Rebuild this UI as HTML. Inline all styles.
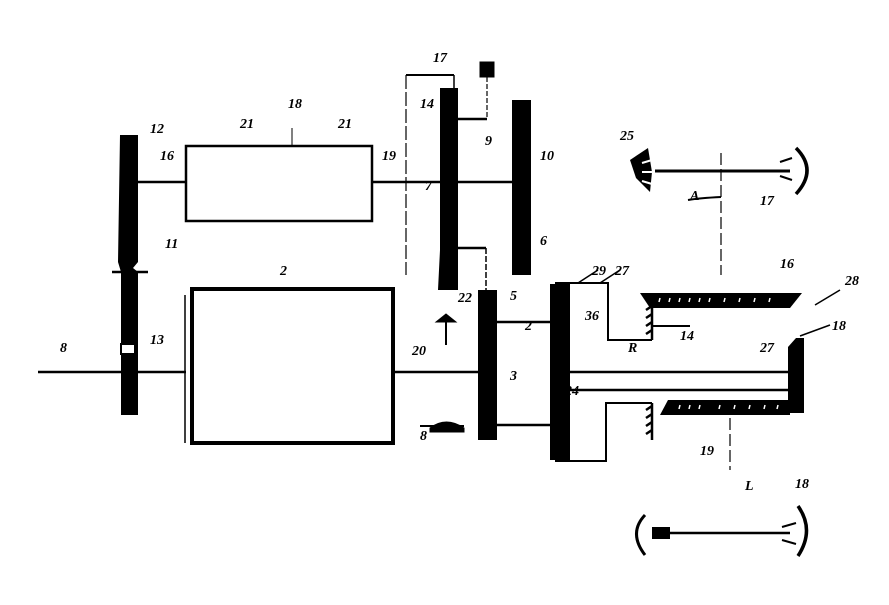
<!DOCTYPE html>
<html><head><meta charset="utf-8"><style>
html,body{margin:0;padding:0;background:#fff;width:889px;height:605px;overflow:hidden}
text{font-family:"Liberation Serif",serif;font-style:italic;font-weight:bold;font-size:14px;fill:#000}
</style></head><body>
<svg width="889" height="605" viewBox="0 0 889 605" xmlns="http://www.w3.org/2000/svg">
<g stroke="#000" fill="none">
<!-- left gear column -->
<path d="M120 135 L138 135 L138 262 L133 268 L138 272 L138 415 L121 415 L121 272 L118 262 Z" fill="#000" stroke="none"/>
<rect x="121" y="344" width="14" height="10" fill="#fff" stroke-width="2"/>
<line x1="112" y1="272" x2="148" y2="272" stroke-width="2.5"/>
<!-- upper box -->
<rect x="186" y="146" width="186" height="75" stroke-width="2.5"/>
<line x1="138" y1="182" x2="186" y2="182" stroke-width="2.5"/>
<line x1="372" y1="182" x2="440" y2="182" stroke-width="2.5"/>
<!-- main box -->
<rect x="192" y="289" width="201" height="154" stroke-width="4"/>
<line x1="185" y1="295" x2="185" y2="443" stroke-width="1.5"/>
<line x1="38" y1="372" x2="186" y2="372" stroke-width="2.5"/>
<line x1="393" y1="372" x2="478" y2="372" stroke-width="2.5"/>
<!-- thin frame lines -->
<line x1="406" y1="75" x2="406" y2="275" stroke-width="1.2" stroke-dasharray="14,3"/>
<line x1="406" y1="75" x2="454" y2="75" stroke-width="2"/>
<line x1="454" y1="75" x2="454" y2="90" stroke-width="1.5"/>
<!-- gear 1 -->
<path d="M440 88 L458 88 L458 290 L438 290 L440 250 Z" fill="#000" stroke="none"/>
<line x1="458" y1="119" x2="487" y2="119" stroke-width="2.5"/>
<line x1="458" y1="182" x2="512" y2="182" stroke-width="2.5"/>
<line x1="458" y1="248" x2="486" y2="248" stroke-width="2.5"/>
<line x1="486" y1="248" x2="486" y2="292" stroke-width="1.5" stroke-dasharray="6,2"/>
<rect x="480" y="62" width="14" height="15" fill="#000"/>
<line x1="487" y1="77" x2="487" y2="119" stroke-width="1.2" stroke-dasharray="5,2"/>
<!-- gear 2 -->
<rect x="512" y="100" width="19" height="175" fill="#000" stroke="none"/>
<!-- gear 3 -->
<rect x="478" y="290" width="19" height="150" fill="#000" stroke="none"/>
<line x1="497" y1="322" x2="552" y2="322" stroke-width="2.5"/>
<line x1="497" y1="425" x2="552" y2="425" stroke-width="2.5"/>
<!-- gear 4 -->
<rect x="550" y="284" width="20" height="176" fill="#000" stroke="none"/>
<polyline points="555,283 608,283 608,340 652,340" stroke-width="2"/>
<polyline points="555,461 606,461 606,403 652,403" stroke-width="2"/>
<path d="M652 305 L652 340 M646 310 l6 -4 M646 318 l6 -4 M646 326 l6 -4 M646 334 l6 -4" stroke-width="2.5"/>
<path d="M652 403 L652 440 M646 410 l6 -4 M646 418 l6 -4 M646 426 l6 -4 M646 434 l6 -4" stroke-width="2.5"/>
<line x1="652" y1="326" x2="690" y2="326" stroke-width="2"/>
<!-- output shafts -->
<line x1="570" y1="372" x2="790" y2="372" stroke-width="2.5"/>
<line x1="570" y1="390" x2="790" y2="390" stroke-width="2.5"/>
<path d="M788 347 L796 338 L804 338 L804 413 L788 413 Z" fill="#000" stroke="none"/>
<!-- bevel gears -->
<polygon points="640,293 802,293 790,308 650,308" fill="#000" stroke="none"/>
<path d="M660 298 l-1 4 M670 298 l-1 4 M680 298 l-1 4 M690 298 l-1 4 M700 298 l-1 4 M710 298 l-1 4 M725 298 l-1 4 M740 298 l-1 4 M755 298 l-1 4 M770 298 l-1 4" stroke="#fff" stroke-width="1.5"/>
<polygon points="668,400 790,400 790,415 660,415" fill="#000" stroke="none"/>
<path d="M680 405 l-1 4 M690 405 l-1 4 M700 405 l-1 4 M720 405 l-1 4 M735 405 l-1 4 M750 405 l-1 4 M765 405 l-1 4 M778 405 l-1 4" stroke="#fff" stroke-width="1.5"/>
<!-- dashed lines -->
<line x1="721" y1="153" x2="721" y2="275" stroke-width="1.2" stroke-dasharray="12,4"/>
<line x1="730" y1="418" x2="730" y2="470" stroke-width="1.2" stroke-dasharray="12,4"/>
<path d="M688 200 Q700 198 721 197" stroke-width="2"/>
<!-- top wheel -->
<line x1="655" y1="171" x2="790" y2="171" stroke-width="3"/>
<path d="M648 148 L630 160 L636 178 L650 192 L652 172 Z" fill="#000" stroke="none"/>
<path d="M642 163 l10 -3 M642 172 l12 0 M642 181 l10 3" stroke="#fff" stroke-width="2"/>
<path d="M796 148 Q818 170 796 194" stroke-width="3.5"/>
<path d="M780 162 l12 -4 M780 176 l12 4" stroke-width="2"/>
<!-- bottom wheel -->
<line x1="665" y1="533" x2="790" y2="533" stroke-width="2.5"/>
<rect x="652" y="527" width="18" height="12" fill="#000" stroke="none"/>
<path d="M645 515 Q628 533 645 555" stroke-width="3"/>
<path d="M798 506 Q815 530 798 556" stroke-width="3.5"/>
<path d="M782 527 l14 -4 M782 540 l14 4" stroke-width="2"/>
<!-- small parts -->
<path d="M436 322 L446 314 L456 322 Z" fill="#000"/>
<line x1="446" y1="322" x2="446" y2="345" stroke-width="2"/>
<path d="M430 428 Q446 416 464 428 L464 432 L430 432 Z" fill="#000"/>
<line x1="420" y1="426" x2="464" y2="426" stroke-width="2"/>
<!-- leader lines -->
<line x1="292" y1="128" x2="292" y2="145" stroke-width="1"/>
<line x1="840" y1="290" x2="815" y2="305" stroke-width="1.5"/>
<line x1="578" y1="283" x2="598" y2="270" stroke-width="1.5"/>
<line x1="600" y1="283" x2="620" y2="270" stroke-width="1.5"/>
<line x1="800" y1="336" x2="830" y2="325" stroke-width="1.5"/>
</g>
<text x="150" y="133">12</text>
<text x="160" y="160">16</text>
<text x="165" y="248">11</text>
<text x="60" y="352">8</text>
<text x="150" y="344">13</text>
<text x="240" y="128">21</text>
<text x="288" y="108">18</text>
<text x="338" y="128">21</text>
<text x="382" y="160">19</text>
<text x="280" y="275">2</text>
<text x="433" y="62">17</text>
<text x="420" y="108">14</text>
<text x="485" y="145">9</text>
<text x="425" y="190">7</text>
<text x="540" y="160">10</text>
<text x="540" y="245">6</text>
<text x="458" y="302">22</text>
<text x="510" y="300">5</text>
<text x="525" y="330">2</text>
<text x="510" y="380">3</text>
<text x="412" y="355">20</text>
<text x="420" y="440">8</text>
<text x="592" y="275">29</text>
<text x="615" y="275">27</text>
<text x="585" y="320">36</text>
<text x="565" y="395">24</text>
<text x="680" y="340">14</text>
<text x="628" y="352">R</text>
<text x="620" y="140">25</text>
<text x="690" y="200">A</text>
<text x="760" y="205">17</text>
<text x="780" y="268">16</text>
<text x="845" y="285">28</text>
<text x="832" y="330">18</text>
<text x="760" y="352">27</text>
<text x="700" y="455">19</text>
<text x="745" y="490">L</text>
<text x="795" y="488">18</text>
</svg>
</body></html>
